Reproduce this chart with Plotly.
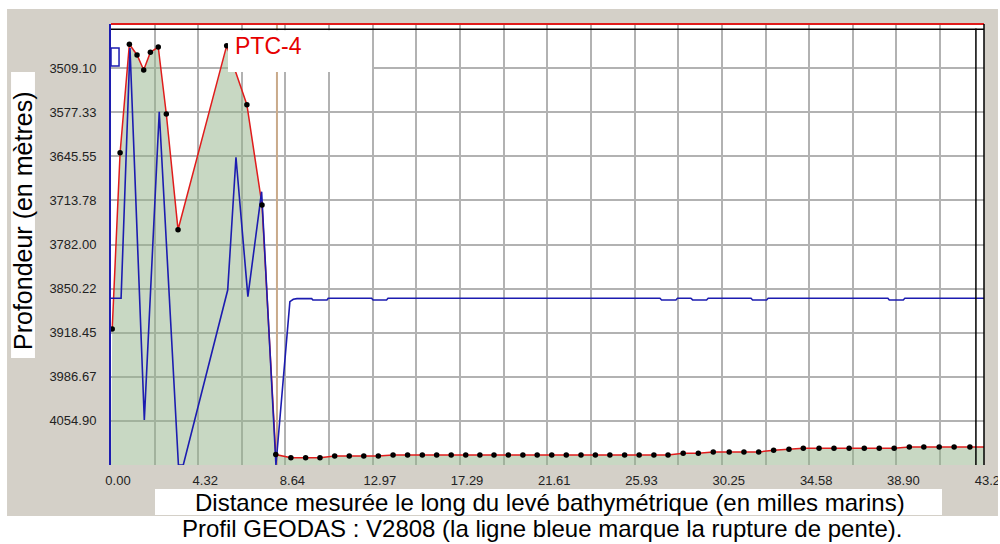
import plotly.graph_objects as go

# ---------------- data ----------------
# bathymetric profile: distance along track (nautical miles) and depth (m)
profile_dist = [0.06, 0.45, 0.91, 1.29, 1.62, 1.95, 2.34, 2.74, 3.32, 5.73,
                6.73, 7.48, 8.16,
                8.91, 9.64, 10.35, 11.08, 11.80, 12.52, 13.24, 13.97, 14.69, 15.42,
                16.13, 16.85, 17.57, 18.27, 18.97, 19.68, 20.40, 21.11, 21.83, 22.55,
                23.28, 23.99, 24.71, 25.44, 26.16, 26.89, 27.59, 28.34, 29.09, 29.83,
                30.62, 31.35, 32.08, 32.82, 33.58, 34.29, 35.07, 35.81, 36.56, 37.31,
                38.05, 38.79, 39.54, 40.26, 41.02, 41.76, 42.54, 43.24]
profile_depth = [3912.7, 3640.0, 3472.3, 3488.8, 3512.0, 3484.7, 3476.5, 3580.1, 3759.1, 3474.4,
                 3565.7, 3720.9, 4107.0,
                 4111.8, 4111.8, 4111.8, 4109.2, 4109.2, 4109.2, 4109.2, 4107.6, 4107.6, 4107.6,
                 4107.6, 4107.6, 4107.6, 4107.6, 4107.6, 4107.6, 4107.6, 4107.6, 4107.6, 4107.6,
                 4107.6, 4107.6, 4107.6, 4107.6, 4107.6, 4107.6, 4107.6, 4105.0, 4105.0, 4103.0,
                 4103.0, 4103.0, 4103.0, 4100.4, 4098.8, 4097.3, 4097.3, 4097.3, 4097.3, 4097.3,
                 4097.3, 4097.3, 4095.3, 4095.3, 4095.3, 4095.3, 4095.3, 4095.3]
# soundings shown with a dot (the last vertex sits on the frame, no dot)
dot_count = 60

# blue line (slope break indicator), drawn on the depth scale
slope_dist = [0.00, 0.50, 0.94, 1.65, 2.39, 3.34, 3.58, 5.78, 6.19, 6.78,
              7.46, 8.17, 8.86, 9.03, 9.21, 9.94, 10.00, 10.70, 10.76, 12.91,
              12.98, 13.65, 13.72, 27.19, 27.27, 27.98, 28.06, 28.72, 28.81, 29.50,
              29.58, 31.70, 31.78, 32.47, 32.55, 38.48, 38.55, 39.24, 39.32, 43.24]
slope_depth = [3865.2, 3865.2, 3478.0, 4053.5, 3576.5, 4123.1, 4123.1, 3852.4, 3647.1, 3862.7,
               3700.3, 4123.1, 3870.5, 3866.8, 3865.7, 3865.7, 3867.8, 3867.8, 3865.2, 3865.2,
               3867.8, 3867.8, 3865.2, 3865.2, 3867.8, 3867.8, 3865.2, 3865.2, 3867.8, 3867.8,
               3865.2, 3865.2, 3867.8, 3867.8, 3865.2, 3865.2, 3867.8, 3867.8, 3865.2, 3865.2]

# cursor lines of the original viewer
cursor_dist = 8.22
cursor_dist2 = 42.84
cursor_depth = 3449.1

# axes
x_tick_vals = [0.00, 4.32, 8.64, 12.97, 17.29, 21.61, 25.93, 30.25, 34.58, 38.90, 43.24]
x_tick_labels = ["0.00", "4.32", "8.64", "12.97", "17.29", "21.61", "25.93", "30.25",
                 "34.58", "38.90", "43.24"]
x_minor_vals = [2.16, 6.48, 10.81, 15.13, 19.45, 23.77, 28.09, 32.42, 36.74, 41.06]
y_tick_vals = [3509.10, 3577.33, 3645.55, 3713.78, 3782.00, 3850.22, 3918.45, 3986.67, 4054.90]
y_tick_labels = ["3509.10", "3577.33", "3645.55", "3713.78", "3782.00", "3850.22",
                 "3918.45", "3986.67", "4054.90"]
X_MAX = 43.24
Y_TOP = 3440.875
Y_BOTTOM = 4123.125

title_text = "PTC-4"
y_title = "Profondeur (en mètres)"
x_title = "Distance mesurée le long du levé bathymétrique (en milles marins)"
caption = "Profil GEODAS : V2808 (la ligne bleue marque la rupture de pente)."

# ---------------- styles ----------------
FONT = "Liberation Sans, Arial, sans-serif"
GREY_BG = "#d4d0c8"
GRID = "#b2b2b2"
RED = "#e01c1c"
BLUE = "#1c1cb0"

fig = go.Figure()
# baseline at the bottom of the plot for the fill
fig.add_trace(go.Scatter(x=[0, X_MAX], y=[Y_BOTTOM, Y_BOTTOM], mode="lines",
                         line=dict(width=0, color="rgba(0,0,0,0)"), hoverinfo="skip"))
fig.add_trace(go.Scatter(x=profile_dist, y=profile_depth, mode="lines", fill="tonexty",
                         fillcolor="rgba(145,178,136,0.5)",
                         line=dict(color=RED, width=1.5)))
fig.add_trace(go.Scatter(x=[cursor_dist, cursor_dist], y=[Y_TOP, Y_BOTTOM], mode="lines",
                         line=dict(color="#c9aa8a", width=2)))
fig.add_trace(go.Scatter(x=slope_dist, y=slope_depth, mode="lines",
                         line=dict(color=BLUE, width=1.6)))
fig.add_trace(go.Scatter(x=profile_dist[:dot_count], y=profile_depth[:dot_count], mode="markers",
                         marker=dict(color="black", size=5.5)))

shapes = []
# frame lines
shapes.append(dict(type="line", xref="paper", yref="paper", x0=0, x1=1, y0=1, y1=1,
                   line=dict(color=RED, width=2), layer="above"))
shapes.append(dict(type="line", xref="paper", yref="y", x0=0, x1=1, y0=cursor_depth, y1=cursor_depth,
                   line=dict(color="black", width=1.5), layer="above"))
shapes.append(dict(type="line", xref="x", yref="paper", x0=cursor_dist2, x1=cursor_dist2, y0=0, y1=0.99,
                   line=dict(color="black", width=1.5), layer="above"))
shapes.append(dict(type="line", xref="paper", yref="paper", x0=1, x1=1, y0=0, y1=1,
                   line=dict(color="black", width=1.5), layer="above"))
# small blue box at the top-left
shapes.append(dict(type="rect", xref="paper", yref="paper", x0=0.0, x1=0.0092, y0=0.9048, y1=0.9456,
                   line=dict(color=BLUE, width=1.5), fillcolor="white", layer="above"))
# white box behind the title
shapes.append(dict(type="rect", xref="paper", yref="paper", x0=0.134, x1=0.299, y0=0.891, y1=0.986,
                   line=dict(width=0), fillcolor="white", layer="above"))
# white box behind the y title
shapes.append(dict(type="rect", xref="paper", yref="paper", x0=-0.1145, x1=-0.0871, y0=0.2426, y1=0.891,
                   line=dict(width=0), fillcolor="white", layer="above"))
# white box behind the x title
shapes.append(dict(type="rect", xref="paper", yref="paper", x0=0.0504, x1=0.9519, y0=-0.1134, y1=-0.0544,
                   line=dict(width=0), fillcolor="white", layer="above"))
# white margins around the grey panel
for (x0, x1, y0, y1) in [(-0.13, 1.02, 1.034, 1.06), (-0.13, 1.02, -0.19, -0.1156),
                         (-0.13, -0.1191, -0.19, 1.06), (1.016, 1.02, -0.19, 1.06)]:
    shapes.append(dict(type="rect", xref="paper", yref="paper", x0=x0, x1=x1, y0=y0, y1=y1,
                       line=dict(width=0), fillcolor="white", layer="above"))

annotations = [
    dict(text=title_text, xref="paper", yref="paper", x=0.1397, y=0.95, xanchor="left", yanchor="middle",
         showarrow=False, font=dict(family=FONT, size=23, color="#e60000")),
    dict(text=y_title, xref="paper", yref="paper", x=-0.1008, y=0.5533, xanchor="center", yanchor="middle",
         textangle=-90, showarrow=False, font=dict(family=FONT, size=25, color="black")),
    dict(text=x_title, xref="paper", yref="paper", x=0.5023, y=-0.0845, xanchor="center", yanchor="middle",
         showarrow=False, borderpad=0, font=dict(family=FONT, size=24, color="black")),
    dict(text=caption, xref="paper", yref="paper", x=0.4937, y=-0.1429, xanchor="center", yanchor="middle",
         showarrow=False, borderpad=0, font=dict(family=FONT, size=24, color="black")),
]

fig.update_layout(
    width=1000, height=544,
    margin=dict(l=111, r=16, t=24, b=79, autoexpand=False),
    paper_bgcolor=GREY_BG, plot_bgcolor="white",
    showlegend=False,
    shapes=shapes, annotations=annotations,
    xaxis=dict(range=[0, X_MAX], tickvals=x_tick_vals, ticktext=x_tick_labels,
               showgrid=True, gridcolor=GRID, gridwidth=2, zeroline=False, showline=False,
               minor=dict(tickvals=x_minor_vals, showgrid=True, gridcolor=GRID, gridwidth=2),
               ticks="outside", ticklen=3, tickcolor="rgba(0,0,0,0)", ticklabelshift=7,
               ticklabeloverflow="allow", automargin=False,
               tickfont=dict(family=FONT, size=13, color="#222222")),
    yaxis=dict(range=[Y_BOTTOM, Y_TOP], tickvals=y_tick_vals, ticktext=y_tick_labels,
               showgrid=True, gridcolor=GRID, gridwidth=2, zeroline=False,
               showline=True, linecolor=BLUE, linewidth=2, automargin=False,
               ticks="outside", ticklen=10, tickcolor="rgba(0,0,0,0)",
               tickfont=dict(family=FONT, size=13, color="#222222")),
)

fig.write_html("out.html", config={"displayModeBar": False})

# remove the browser's default page margin so the figure sits at the top-left corner
with open("out.html", "r", encoding="utf-8") as f:
    html = f.read()
html = html.replace("<head>", "<head><style>html,body{margin:0;padding:0;overflow:hidden;}</style>", 1)
with open("out.html", "w", encoding="utf-8") as f:
    f.write(html)
